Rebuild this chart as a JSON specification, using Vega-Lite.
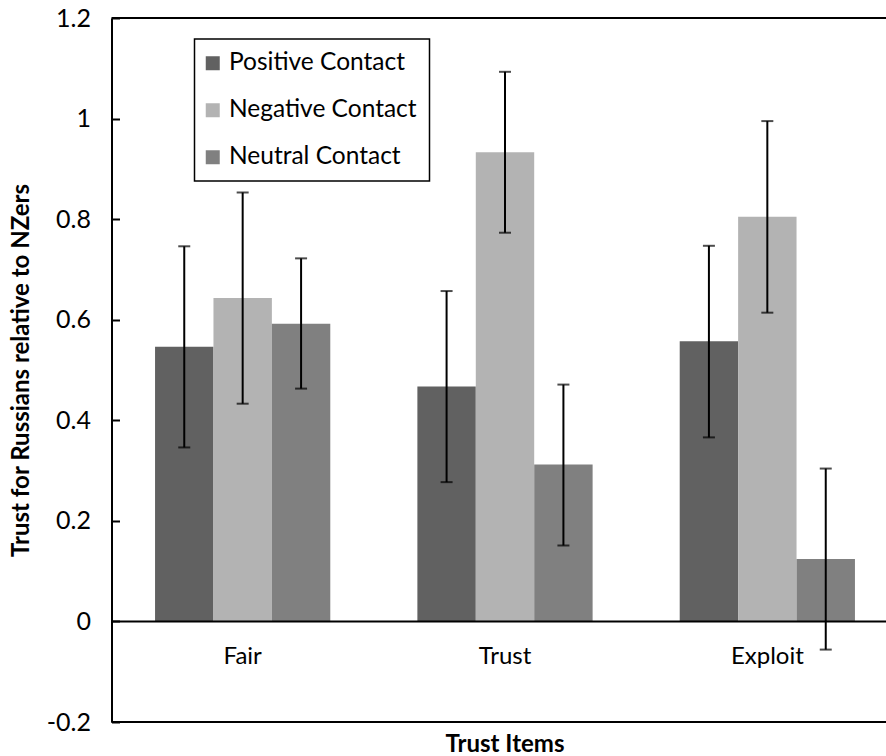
{
  "$schema": "https://vega.github.io/schema/vega-lite/v6.json",
  "width": 775,
  "height": 704,
  "autosize": {"type": "none"},
  "padding": {"left": 111.5, "top": 18, "right": 0, "bottom": 34},
  "config": {
    "view": {"stroke": null},
    "font": "Lato",
    "axis": {"labelFont": "Lato", "titleFont": "Lato", "labelColor": "black", "titleColor": "black", "grid": false}
  },
  "datasets": {
    "bars": [
      {"item": "Fair", "contact": "Positive Contact", "mean": 0.546, "lo": 0.346, "hi": 0.746},
      {"item": "Fair", "contact": "Negative Contact", "mean": 0.643, "lo": 0.433, "hi": 0.853},
      {"item": "Fair", "contact": "Neutral Contact", "mean": 0.592, "lo": 0.463, "hi": 0.722},
      {"item": "Trust", "contact": "Positive Contact", "mean": 0.467, "lo": 0.277, "hi": 0.657},
      {"item": "Trust", "contact": "Negative Contact", "mean": 0.933, "lo": 0.773, "hi": 1.093},
      {"item": "Trust", "contact": "Neutral Contact", "mean": 0.312, "lo": 0.151, "hi": 0.471},
      {"item": "Exploit", "contact": "Positive Contact", "mean": 0.557, "lo": 0.366, "hi": 0.747},
      {"item": "Exploit", "contact": "Negative Contact", "mean": 0.805, "lo": 0.614, "hi": 0.995},
      {"item": "Exploit", "contact": "Neutral Contact", "mean": 0.124, "lo": -0.056, "hi": 0.304}
    ]
  },
  "layer": [
    {
      "data": {"name": "bars"},
      "mark": {"type": "bar"},
      "encoding": {
        "x": {
          "field": "item", "type": "nominal", "sort": ["Fair", "Trust", "Exploit"],
          "scale": {"range": [0, 787], "paddingInner": 0.332, "paddingOuter": 0.166},
          "axis": {
            "title": "Trust Items", "titleFontSize": 24, "titleFontWeight": "bold",
            "labelFontSize": 24, "labelAngle": 0, "ticks": false, "domain": false,
            "labelBaseline": "top", "labelPadding": -78,
            "titleX": 393, "titleY": 29, "titleBaseline": "alphabetic"
          }
        },
        "xOffset": {
          "field": "contact", "type": "nominal",
          "sort": ["Positive Contact", "Negative Contact", "Neutral Contact"],
          "scale": {"paddingInner": 0, "paddingOuter": 0}
        },
        "y": {
          "field": "mean", "type": "quantitative",
          "scale": {"domain": [-0.2, 1.2], "nice": false, "zero": false},
          "axis": {
            "title": "Trust for Russians relative to NZers", "titleFontSize": 24, "titleFontWeight": "bold",
            "titleX": -90, "titleBaseline": "middle",
            "values": [-0.2, 0, 0.2, 0.4, 0.6, 0.8, 1, 1.2],
            "labelExpr": "'' + datum.value",
            "labelFontSize": 25, "tickSize": -8, "tickColor": "black", "tickWidth": 2,
            "domainColor": "black", "domainWidth": 2, "labelPadding": 29
          }
        },
        "color": {
          "field": "contact", "type": "nominal",
          "scale": {"domain": ["Positive Contact", "Negative Contact", "Neutral Contact"], "range": ["#616161", "#b3b3b3", "#808080"]},
          "legend": {
            "title": null, "orient": "none", "legendX": 83, "legendY": 21,
            "direction": "vertical", "strokeColor": "black", "padding": 12,
            "symbolType": "square", "symbolSize": 196, "symbolStrokeWidth": 0, "symbolOpacity": 1, "symbolOffset": -6,
            "labelFontSize": 24.5, "labelFont": "Lato", "labelColor": "black", "labelOffset": 4, "labelLimit": 0, "rowPadding": 22,
            "encode": {"legend": {"update": {"strokeWidth": {"value": 1.5}}}}
          }
        }
      }
    },
    {
      "data": {"name": "bars"},
      "mark": {"type": "rule", "color": "black", "strokeWidth": 2},
      "encoding": {
        "x": {"field": "item", "type": "nominal", "sort": ["Fair", "Trust", "Exploit"]},
        "xOffset": {"field": "contact", "type": "nominal", "sort": ["Positive Contact", "Negative Contact", "Neutral Contact"]},
        "y": {"field": "lo", "type": "quantitative"}, "y2": {"field": "hi"}
      }
    },
    {
      "data": {"name": "bars"},
      "mark": {"type": "tick", "color": "black", "size": 12, "thickness": 2},
      "encoding": {
        "x": {"field": "item", "type": "nominal", "sort": ["Fair", "Trust", "Exploit"]},
        "xOffset": {"field": "contact", "type": "nominal", "sort": ["Positive Contact", "Negative Contact", "Neutral Contact"]},
        "y": {"field": "lo", "type": "quantitative"}
      }
    },
    {
      "data": {"name": "bars"},
      "mark": {"type": "tick", "color": "black", "size": 12, "thickness": 2},
      "encoding": {
        "x": {"field": "item", "type": "nominal", "sort": ["Fair", "Trust", "Exploit"]},
        "xOffset": {"field": "contact", "type": "nominal", "sort": ["Positive Contact", "Negative Contact", "Neutral Contact"]},
        "y": {"field": "hi", "type": "quantitative"}
      }
    },
    {
      "data": {"values": [{"v": 0}, {"v": 1.2}, {"v": -0.2}]},
      "mark": {"type": "rule", "color": "black", "strokeWidth": 2},
      "encoding": {"y": {"field": "v", "type": "quantitative"}}
    }
  ]
}
